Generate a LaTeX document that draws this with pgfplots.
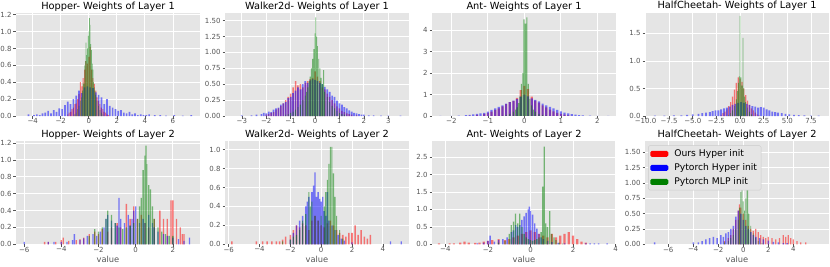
\documentclass[border=0pt]{standalone}
\usepackage{pgfplots}
\pgfplotsset{compat=1.18}
\usepackage{fontspec}
\setmainfont{DejaVu Sans}
\definecolor{ggbg}{HTML}{E5E5E5}
\definecolor{ticgray}{HTML}{555555}
\definecolor{mplgreen}{HTML}{008000}
\pgfplotsset{
  gg/.style={
    scale only axis, width=184pt, height=103pt,
    axis background/.style={fill=ggbg},
    axis line style={draw=none},
    grid=major, major grid style={white, line width=0.8pt},
    tick style={draw=ticgray, line width=0.6pt},
    tick align=outside, major tick length=2.5pt,
    xtick pos=bottom, ytick pos=left,
    ticklabel style={font=\fontsize{7}{8}\selectfont, text=ticgray},
    xticklabel style={yshift=3.5pt},
    yticklabel style={xshift=1.5pt},
    every axis title/.style={font=\fontsize{9.8}{11}\selectfont, at={(0.5,1)}, anchor=base, yshift=4pt, inner sep=0pt},
    every axis x label/.style={font=\fontsize{8.3}{9}\selectfont, text=ticgray, at={(0.5,0)}, anchor=base, yshift=-18.5pt, inner sep=0pt},
    ymin=0, enlargelimits=false, clip=true,
  },
  rb/.style={ybar, bar shift=0pt, draw=none, fill=red, fill opacity=0.5, bar width=#1},
  bb/.style={ybar, bar shift=0pt, draw=none, fill=blue, fill opacity=0.5, bar width=#1},
  gb/.style={ybar, bar shift=0pt, draw=none, fill=mplgreen, fill opacity=0.5, bar width=#1},
}
\begin{document}
\begin{tikzpicture}
\useasboundingbox (0,0) rectangle (830pt,266pt);
% ---------------- Hopper L1
\begin{axis}[gg, at={(16pt,253pt)}, anchor=north west,
  xmin=-5.19, xmax=7.93, ymax=1.22,
  xtick={-4,-2,0,2,4,6}, xticklabels={−4,−2,0,2,4,6},
  ytick={0,0.2,0.4,0.6,0.8,1.0,1.2}, yticklabels={0.0,0.2,0.4,0.6,0.8,1.0,1.2},
  title={Hopper- Weights of Layer 1}]
\addplot[rb=0.07] coordinates {(-1.5,0.02)(-1.4,0.04)(-1.3,0.05)(-1.2,0.08)(-1.1,0.1)(-1.0,0.14)(-0.9,0.15)(-0.8,0.2)(-0.7,0.26)(-0.6,0.4)(-0.5,0.35)(-0.4,0.45)(-0.3,0.55)(-0.2,0.65)(-0.1,0.62)(0.0,0.7)(0.1,0.82)(0.2,0.55)(0.3,0.45)(0.4,0.38)(0.5,0.3)(0.6,0.22)(0.7,0.18)(0.8,0.14)(0.9,0.1)(1.0,0.08)(1.1,0.05)(1.2,0.04)(1.3,0.02)(1.4,0.01)};
\addplot[bb=0.12] coordinates {(-4.3,0.02)(-3.9,0.01)(-3.7,0.02)(-3.5,0.01)(-3.3,0.03)(-3.1,0.04)(-2.9,0.06)(-2.7,0.03)(-2.5,0.07)(-2.3,0.05)(-2.1,0.09)(-1.9,0.08)(-1.7,0.13)(-1.5,0.17)(-1.3,0.14)(-1.1,0.2)(-0.9,0.24)(-0.7,0.3)(-0.5,0.27)(-0.3,0.34)(-0.1,0.35)(0.1,0.34)(0.3,0.33)(0.5,0.28)(0.7,0.25)(0.9,0.22)(1.1,0.14)(1.3,0.2)(1.5,0.12)(1.7,0.1)(1.9,0.08)(2.1,0.06)(2.3,0.07)(2.5,0.04)(2.7,0.03)(2.9,0.05)(3.1,0.02)(3.3,0.03)(3.5,0.01)(3.7,0.02)(3.9,0.01)(4.1,0.01)(4.3,0.02)(4.7,0.01)(5.1,0.01)(5.5,0.005)(6.1,0.01)(6.7,0.005)(7.3,0.01)};
\addplot[gb=0.04] coordinates {(-1.0,0.02)(-0.9,0.04)(-0.8,0.08)(-0.7,0.12)(-0.6,0.18)(-0.5,0.22)(-0.45,0.3)(-0.4,0.4)(-0.35,0.38)(-0.3,0.6)(-0.25,0.65)(-0.2,0.87)(-0.15,0.72)(-0.1,0.8)(-0.05,0.95)(0.0,1.0)(0.05,1.16)(0.1,1.08)(0.15,0.85)(0.2,0.78)(0.25,0.62)(0.3,0.55)(0.35,0.4)(0.4,0.34)(0.45,0.3)(0.5,0.25)(0.6,0.18)(0.7,0.12)(0.8,0.07)(0.9,0.04)(1.0,0.02)};
\end{axis}
% ---------------- Walker2d L1
\begin{axis}[gg, at={(225pt,253pt)}, anchor=north west,
  xmin=-3.69, xmax=3.85, ymax=1.62,
  xtick={-3,-2,-1,0,1,2,3}, xticklabels={−3,−2,−1,0,1,2,3},
  ytick={0,0.25,0.5,0.75,1.0,1.25,1.5}, yticklabels={0.00,0.25,0.50,0.75,1.00,1.25,1.50},
  title={Walker2d- Weights of Layer 1}]
\addplot[rb=0.06] coordinates {(-2.0,0.02)(-1.9,0.03)(-1.8,0.05)(-1.7,0.06)(-1.6,0.1)(-1.5,0.12)(-1.4,0.16)(-1.3,0.2)(-1.2,0.25)(-1.1,0.3)(-1.0,0.35)(-0.9,0.45)(-0.8,0.55)(-0.7,0.48)(-0.6,0.5)(-0.5,0.45)(-0.4,0.52)(-0.3,0.55)(-0.2,0.58)(-0.1,0.6)(0.0,0.7)(0.1,0.62)(0.2,0.55)(0.3,0.45)(0.4,0.42)(0.5,0.35)(0.6,0.3)(0.7,0.25)(0.8,0.2)(0.9,0.15)(1.0,0.12)(1.1,0.08)(1.2,0.06)(1.3,0.04)(1.4,0.03)(1.5,0.02)(1.7,0.01)};
\addplot[bb=0.07] coordinates {(-3.0,0.01)(-2.6,0.01)(-2.4,0.02)(-2.2,0.03)(-2.1,0.05)(-2.0,0.04)(-1.9,0.07)(-1.8,0.06)(-1.7,0.1)(-1.6,0.12)(-1.5,0.13)(-1.4,0.18)(-1.3,0.2)(-1.2,0.22)(-1.1,0.28)(-1.0,0.3)(-0.9,0.36)(-0.8,0.4)(-0.7,0.45)(-0.6,0.42)(-0.5,0.5)(-0.4,0.55)(-0.3,0.52)(-0.2,0.56)(-0.1,0.58)(0.0,0.57)(0.1,0.55)(0.2,0.52)(0.3,0.5)(0.4,0.46)(0.5,0.42)(0.6,0.38)(0.7,0.32)(0.8,0.3)(0.9,0.24)(1.0,0.2)(1.1,0.18)(1.2,0.14)(1.3,0.12)(1.4,0.09)(1.5,0.07)(1.6,0.05)(1.7,0.04)(1.8,0.03)(1.9,0.02)(2.0,0.02)(2.2,0.01)(2.4,0.01)(2.7,0.005)(3.0,0.005)(3.5,0.005)};
\addplot[gb=0.035] coordinates {(-1.2,0.02)(-1.1,0.03)(-1.0,0.05)(-0.9,0.07)(-0.8,0.1)(-0.7,0.14)(-0.6,0.18)(-0.5,0.25)(-0.4,0.32)(-0.35,0.38)(-0.3,0.45)(-0.25,0.55)(-0.2,0.62)(-0.15,0.75)(-0.1,0.9)(-0.05,1.05)(0.0,1.3)(0.03,1.55)(0.07,1.25)(0.1,1.1)(0.15,0.9)(0.2,0.75)(0.25,0.6)(0.3,0.5)(0.35,0.72)(0.4,0.38)(0.5,0.3)(0.6,0.22)(0.7,0.16)(0.8,0.12)(0.9,0.08)(1.0,0.05)(1.1,0.03)(1.2,0.02)};
\end{axis}
% ---------------- Ant L1
\begin{axis}[gg, at={(432pt,253pt)}, anchor=north west,
  xmin=-2.53, xmax=2.51, ymax=4.8,
  xtick={-2,-1,0,1,2}, xticklabels={−2,−1,0,1,2},
  ytick={0,1,2,3,4}, yticklabels={0,1,2,3,4},
  title={Ant- Weights of Layer 1}]
\addplot[rb=0.06] coordinates {(-1.5,0.02)(-1.3,0.05)(-1.1,0.1)(-1.0,0.15)(-0.9,0.2)(-0.8,0.28)(-0.7,0.35)(-0.6,0.45)(-0.5,0.55)(-0.4,0.65)(-0.3,0.7)(-0.2,0.85)(-0.1,1.2)(0.0,1.4)(0.1,1.25)(0.2,0.9)(0.3,0.72)(0.4,0.62)(0.5,0.5)(0.6,0.4)(0.7,0.3)(0.8,0.22)(0.9,0.15)(1.0,0.1)(1.1,0.06)(1.2,0.03)(1.3,0.01)};
\addplot[bb=0.06] coordinates {(-2.3,0.01)(-2.0,0.01)(-1.8,0.02)(-1.6,0.04)(-1.5,0.05)(-1.4,0.07)(-1.3,0.1)(-1.2,0.12)(-1.1,0.15)(-1.0,0.2)(-0.9,0.28)(-0.8,0.35)(-0.7,0.42)(-0.6,0.5)(-0.5,0.58)(-0.4,0.65)(-0.3,0.72)(-0.2,0.8)(-0.1,0.9)(0.0,1.0)(0.1,0.92)(0.2,0.82)(0.3,0.75)(0.4,0.68)(0.5,0.58)(0.6,0.5)(0.7,0.42)(0.8,0.35)(0.9,0.28)(1.0,0.22)(1.1,0.16)(1.2,0.12)(1.3,0.09)(1.4,0.06)(1.5,0.04)(1.6,0.03)(1.8,0.02)(2.0,0.01)(2.3,0.005)};
\addplot[gb=0.03] coordinates {(-0.6,0.02)(-0.5,0.05)(-0.4,0.1)(-0.3,0.2)(-0.24,0.3)(-0.2,0.4)(-0.16,0.6)(-0.12,0.9)(-0.08,1.5)(-0.04,2.0)(-0.01,4.5)(0.03,4.3)(0.07,4.6)(0.11,1.5)(0.15,0.8)(0.2,0.5)(0.25,0.3)(0.3,0.2)(0.4,0.1)(0.5,0.05)(0.6,0.02)};
\end{axis}
% ---------------- HalfCheetah L1
\begin{axis}[gg, at={(645pt,253pt)}, anchor=north west,
  xmin=-10.05, xmax=9.4, ymax=1.87,
  xtick={-10,-7.5,-5,-2.5,0,2.5,5,7.5}, xticklabels={−10.0,−7.5,−5.0,−2.5,0.0,2.5,5.0,7.5},
  ytick={0,0.5,1.0,1.5}, yticklabels={0.0,0.5,1.0,1.5},
  title={HalfCheetah- Weights of Layer 1}]
\addplot[rb=0.12] coordinates {(-2.0,0.02)(-1.8,0.05)(-1.6,0.08)(-1.4,0.12)(-1.2,0.18)(-1.0,0.25)(-0.8,0.35)(-0.6,0.48)(-0.4,0.6)(-0.2,0.7)(0.0,0.68)(0.2,0.62)(0.4,0.5)(0.6,0.38)(0.8,0.28)(1.0,0.2)(1.2,0.14)(1.4,0.1)(1.6,0.06)(1.8,0.03)(2.0,0.01)};
\addplot[bb=0.2] coordinates {(-9.0,0.005)(-8.0,0.005)(-7.0,0.01)(-6.2,0.01)(-5.6,0.02)(-5.0,0.03)(-4.4,0.04)(-4.0,0.05)(-3.6,0.06)(-3.2,0.07)(-2.9,0.09)(-2.6,0.1)(-2.3,0.1)(-2.0,0.12)(-1.7,0.14)(-1.4,0.15)(-1.1,0.17)(-0.8,0.2)(-0.5,0.22)(-0.2,0.24)(0.1,0.25)(0.4,0.24)(0.7,0.22)(1.0,0.2)(1.3,0.18)(1.6,0.17)(1.9,0.15)(2.2,0.16)(2.5,0.15)(2.8,0.12)(3.1,0.1)(3.4,0.08)(3.7,0.07)(4.0,0.06)(4.4,0.05)(4.8,0.04)(5.2,0.03)(5.7,0.02)(6.2,0.015)(6.8,0.01)(7.5,0.005)(8.3,0.005)};
\addplot[gb=0.07] coordinates {(-1.2,0.02)(-1.0,0.05)(-0.8,0.1)(-0.6,0.18)(-0.4,0.3)(-0.3,0.45)(-0.2,0.6)(-0.1,0.72)(0.0,1.82)(0.1,0.7)(0.2,0.55)(0.3,1.42)(0.4,0.5)(0.5,0.35)(0.6,0.25)(0.8,0.15)(1.0,0.08)(1.2,0.03)};
\end{axis}
% ---------------- Hopper L2
\begin{axis}[gg, at={(16pt,124.7pt)}, anchor=north west,
  xmin=-6.44, xmax=3.46, ymax=1.22,
  xtick={-6,-4,-2,0,2}, xticklabels={−6,−4,−2,0,2},
  ytick={0,0.2,0.4,0.6,0.8,1.0,1.2}, yticklabels={0.0,0.2,0.4,0.6,0.8,1.0,1.2},
  title={Hopper- Weights of Layer 2}, xlabel={value}]
\addplot[rb=0.07] coordinates {(-4.9,0.03)(-4.7,0.03)(-4.3,0.03)(-4.0,0.05)(-3.9,0.08)(-3.6,0.04)(-3.2,0.05)(-3.0,0.06)(-2.8,0.08)(-2.5,0.12)(-2.2,0.15)(-2.0,0.12)(-1.8,0.18)(-1.5,0.15)(-1.3,0.2)(-1.0,0.25)(-0.8,0.2)(-0.5,0.48)(-0.3,0.3)(-0.1,0.45)(0.1,0.3)(0.3,0.35)(0.5,0.25)(0.7,0.2)(1.0,0.3)(1.3,0.4)(1.5,0.3)(1.7,0.3)(1.9,0.52)(2.0,0.52)(2.2,0.3)(2.4,0.2)(2.5,0.12)(2.6,0.12)};
\addplot[bb=0.07] coordinates {(-6.0,0.03)(-4.7,0.03)(-4.4,0.03)(-4.0,0.03)(-3.7,0.03)(-3.4,0.05)(-3.3,0.12)(-3.0,0.05)(-2.8,0.07)(-2.6,0.1)(-2.3,0.12)(-2.1,0.1)(-1.9,0.15)(-1.7,0.2)(-1.6,0.3)(-1.5,0.35)(-1.3,0.28)(-1.1,0.25)(-1.0,0.22)(-0.9,0.55)(-0.8,0.3)(-0.6,0.25)(-0.4,0.35)(-0.3,0.22)(-0.2,0.3)(-0.1,0.4)(0.0,0.45)(0.2,0.25)(0.4,0.3)(0.5,0.25)(0.7,0.35)(0.9,0.25)(1.0,0.2)(1.2,0.15)(1.5,0.12)(1.7,0.1)(2.0,0.08)(2.3,0.06)(2.6,0.04)(2.9,0.08)};
\addplot[gb=0.07] coordinates {(-2.5,0.1)(-2.2,0.18)(-2.0,0.15)(-1.8,0.2)(-1.6,0.3)(-1.5,0.4)(-1.3,0.35)(-1.1,0.25)(-0.9,0.2)(-0.7,0.18)(-0.5,0.2)(-0.3,0.22)(-0.1,0.25)(0.1,0.3)(0.2,0.45)(0.3,0.55)(0.4,0.88)(0.5,1.05)(0.55,1.17)(0.6,0.95)(0.7,0.7)(0.8,0.65)(0.9,0.45)(1.0,0.3)(1.2,0.2)(1.4,0.15)(1.6,0.12)(1.8,0.1)(2.0,0.1)};
\end{axis}
% ---------------- Walker2d L2
\begin{axis}[gg, at={(225pt,124.7pt)}, anchor=north west,
  xmin=-6.24, xmax=5.70, ymax=1.088,
  xtick={-6,-4,-2,0,2,4}, xticklabels={−6,−4,−2,0,2,4},
  ytick={0,0.2,0.4,0.6,0.8,1.0}, yticklabels={0.0,0.2,0.4,0.6,0.8,1.0},
  title={Walker2d- Weights of Layer 2}, xlabel={value}]
\addplot[rb=0.1] coordinates {(-5.8,0.03)(-4.2,0.03)(-3.8,0.03)(-3.5,0.03)(-3.2,0.03)(-2.9,0.03)(-2.7,0.03)(-2.5,0.05)(-2.3,0.08)(-2.0,0.1)(-1.8,0.15)(-1.6,0.2)(-1.4,0.18)(-1.2,0.22)(-1.0,0.2)(-0.8,0.15)(-0.6,0.25)(-0.4,0.3)(-0.2,0.25)(0.0,0.2)(0.2,0.18)(0.4,0.22)(0.6,0.25)(0.8,0.2)(1.0,0.15)(1.2,0.12)(1.4,0.1)(1.6,0.08)(1.8,0.12)(2.0,0.12)(2.2,0.2)(2.4,0.1)(2.6,0.15)(2.8,0.08)(3.0,0.06)(3.2,0.1)};
\addplot[bb=0.09] coordinates {(-2.0,0.05)(-1.8,0.12)(-1.6,0.2)(-1.4,0.25)(-1.2,0.3)(-1.0,0.4)(-0.9,0.45)(-0.8,0.5)(-0.6,0.55)(-0.5,0.62)(-0.4,0.76)(-0.3,0.5)(-0.2,0.55)(-0.1,0.48)(0.0,0.45)(0.1,0.5)(0.2,0.35)(0.3,0.3)(0.4,0.55)(0.5,0.25)(0.7,0.2)(0.9,0.15)(1.1,0.1)(1.3,0.06)(1.5,0.04)(2.0,0.02)(4.5,0.03)(5.2,0.03)};
\addplot[gb=0.07] coordinates {(-2.5,0.03)(-2.0,0.05)(-1.8,0.08)(-1.6,0.1)(-1.4,0.15)(-1.2,0.25)(-1.0,0.32)(-0.8,0.55)(-0.7,0.4)(-0.6,0.45)(-0.4,0.3)(-0.2,0.25)(0.0,0.3)(0.2,0.4)(0.3,0.55)(0.4,0.68)(0.5,0.85)(0.6,1.03)(0.7,1.03)(0.8,0.75)(0.9,0.5)(1.0,0.3)(1.2,0.15)(1.4,0.06)};
\end{axis}
% ---------------- Ant L2
\begin{axis}[gg, at={(432pt,124.7pt)}, anchor=north west,
  xmin=-4.63, xmax=4.02, ymax=2.95,
  xtick={-4,-2,0,2,4}, xticklabels={−4,−2,0,2,4},
  ytick={0,0.5,1.0,1.5,2.0,2.5}, yticklabels={0.0,0.5,1.0,1.5,2.0,2.5},
  title={Ant- Weights of Layer 2}, xlabel={value}]
\addplot[rb=0.1] coordinates {(-4.3,0.03)(-3.8,0.03)(-3.6,0.03)(-3.3,0.05)(-3.1,0.08)(-2.9,0.05)(-2.6,0.04)(-2.4,0.05)(-2.2,0.08)(-2.0,0.1)(-1.8,0.12)(-1.5,0.15)(-1.2,0.12)(-1.0,0.15)(-0.8,0.2)(-0.6,0.25)(-0.4,0.3)(-0.2,0.35)(0.0,0.4)(0.2,0.35)(0.4,0.3)(0.6,0.25)(0.8,0.2)(1.0,0.3)(1.2,0.2)(1.4,0.25)(1.6,0.3)(1.8,0.35)(2.0,0.25)(2.2,0.15)(2.4,0.08)(2.6,0.05)};
\addplot[bb=0.07] coordinates {(-2.5,0.03)(-2.2,0.05)(-2.0,0.1)(-1.9,0.25)(-1.7,0.08)(-1.5,0.12)(-1.3,0.15)(-1.1,0.2)(-0.9,0.35)(-0.8,0.4)(-0.7,0.55)(-0.6,0.5)(-0.5,0.55)(-0.4,0.7)(-0.3,0.8)(-0.2,0.9)(-0.1,1.0)(-0.05,1.08)(0.0,0.95)(0.1,0.85)(0.2,0.6)(0.3,0.45)(0.4,0.3)(0.5,0.2)(0.6,0.15)(0.8,0.1)(1.0,0.06)(1.3,0.04)(1.6,0.03)(2.6,0.03)(2.8,0.03)(3.0,0.03)(3.2,0.03)(3.6,0.03)};
\addplot[gb=0.06] coordinates {(-1.5,0.05)(-1.2,0.1)(-1.0,0.3)(-0.9,0.55)(-0.8,0.65)(-0.7,0.88)(-0.6,0.6)(-0.5,0.88)(-0.4,0.5)(-0.3,0.3)(-0.2,0.2)(-0.1,0.15)(0.0,0.12)(0.1,0.1)(0.2,0.12)(0.3,0.15)(0.4,0.2)(0.5,0.35)(0.58,1.65)(0.65,2.8)(0.72,0.6)(0.8,0.5)(0.9,0.95)(1.0,0.3)(1.1,0.2)(1.2,0.12)(1.35,0.05)(1.5,0.02)};
\end{axis}
% ---------------- HalfCheetah L2
\begin{axis}[gg, at={(645pt,124.7pt)}, anchor=north west,
  xmin=-7.86, xmax=6.86, ymax=1.68,
  xtick={-6,-4,-2,0,2,4}, xticklabels={−6,−4,−2,0,2,4},
  ytick={0,0.25,0.5,0.75,1.0,1.25,1.5}, yticklabels={0.00,0.25,0.50,0.75,1.00,1.25,1.50},
  title={HalfCheetah- Weights of Layer 2}, xlabel={value},
  legend style={at={(0.017,0.96)}, anchor=north west, fill=ggbg, draw=white!80!black,
    font=\fontsize{9.2}{10}\selectfont, rounded corners=1.5pt, row sep=1.5pt, inner sep=2pt},
  legend cell align=left,
  legend image code/.code={\fill[#1, fill opacity=1] (0pt,-3pt) rectangle (18pt,3pt); \path (22pt,0pt);},
  legend entries={Ours Hyper init, Pytorch Hyper init, Pytorch MLP init}]
\addplot[rb=0.1] coordinates {(-1.5,0.05)(-1.2,0.1)(-1.0,0.15)(-0.8,0.25)(-0.6,0.4)(-0.4,0.55)(-0.3,0.65)(-0.2,0.6)(0.0,0.5)(0.2,0.4)(0.4,0.3)(0.6,0.25)(0.8,0.22)(1.0,0.25)(1.2,0.2)(1.4,0.15)(1.6,0.12)(1.8,0.1)(2.0,0.12)(2.3,0.1)(2.6,0.08)(2.9,0.1)(3.2,0.15)(3.4,0.12)(3.6,0.15)(3.8,0.1)(4.0,0.08)(4.3,0.05)(4.6,0.03)(5.0,0.03)};
\addplot[bb=0.12] coordinates {(-7.1,0.03)(-4.0,0.03)(-3.6,0.03)(-3.3,0.05)(-3.0,0.08)(-2.7,0.1)(-2.4,0.12)(-2.1,0.1)(-1.8,0.15)(-1.6,0.12)(-1.4,0.18)(-1.2,0.2)(-1.0,0.25)(-0.8,0.3)(-0.6,0.45)(-0.4,0.55)(-0.2,0.5)(0.0,0.4)(0.2,0.3)(0.4,0.25)(0.6,0.2)(0.8,0.15)(1.0,0.12)(1.3,0.1)(1.6,0.08)(2.0,0.06)(2.4,0.04)(2.8,0.03)(3.2,0.02)(3.5,0.02)};
\addplot[gb=0.07] coordinates {(-1.5,0.03)(-1.2,0.05)(-1.0,0.1)(-0.8,0.15)(-0.6,0.25)(-0.4,0.4)(-0.3,0.6)(-0.2,0.85)(-0.1,1.0)(0.0,0.7)(0.1,0.55)(0.2,0.75)(0.3,1.6)(0.35,0.9)(0.45,0.5)(0.6,0.3)(0.8,0.18)(1.0,0.1)(1.2,0.05)(1.5,0.02)};
\end{axis}
\end{tikzpicture}
\end{document}
